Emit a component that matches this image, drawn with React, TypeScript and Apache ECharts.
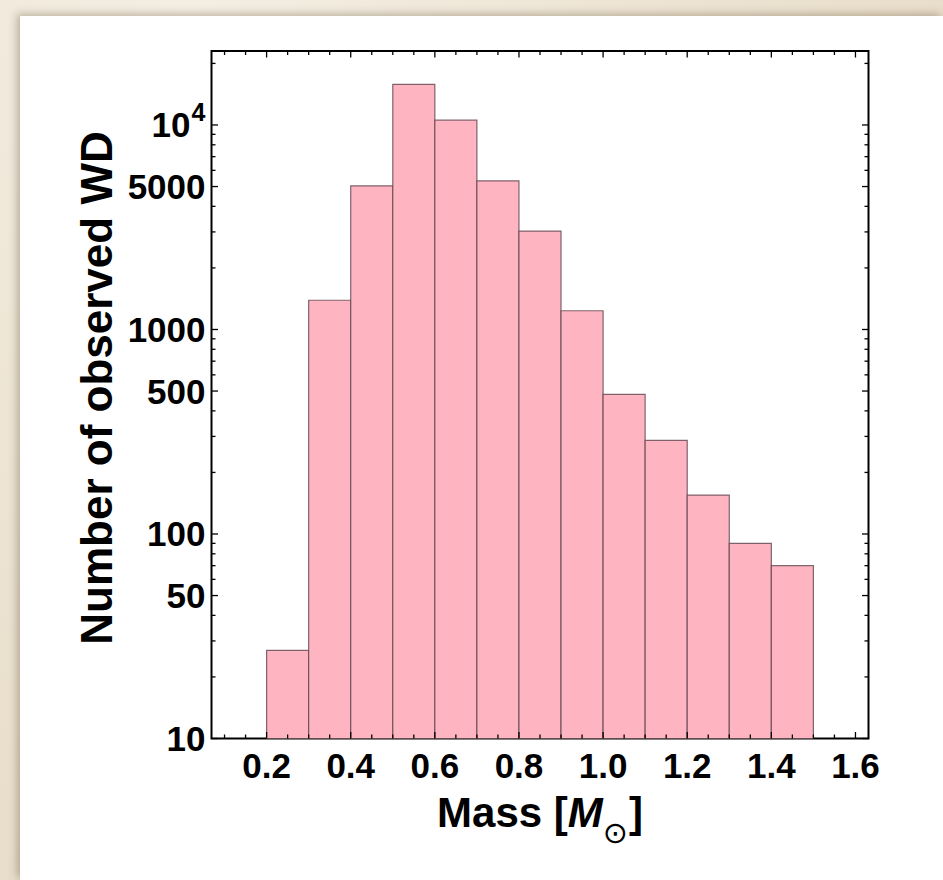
import React, { useEffect, useRef } from 'react';
import * as echarts from 'echarts';

// ---- data ----
const binStarts = [0.2, 0.3, 0.4, 0.5, 0.6, 0.7, 0.8, 0.9, 1.0, 1.1, 1.2, 1.3, 1.4];
const binEnds = [0.3, 0.4, 0.5, 0.6, 0.7, 0.8, 0.9, 1.0, 1.1, 1.2, 1.3, 1.4, 1.5];
const counts = [27, 1390, 5040, 15800, 10550, 5330, 3030, 1235, 482, 287, 155, 90, 70];

const xMajorTicks = [0.2, 0.4, 0.6, 0.8, 1.0, 1.2, 1.4, 1.6];
const xTickLabels = ['0.2', '0.4', '0.6', '0.8', '1.0', '1.2', '1.4', '1.6'];
const xMinorTicks = [0.1, 0.15, 0.25, 0.3, 0.35, 0.45, 0.5, 0.55, 0.65, 0.7, 0.75, 0.85, 0.9, 0.95,
  1.05, 1.1, 1.15, 1.25, 1.3, 1.35, 1.45, 1.5, 1.55];

const yMajorTicks = [10, 50, 100, 500, 1000, 5000, 10000];
const yTickLabels = ['10', '50', '100', '500', '1000', '5000', '10^4'];
const yMinorTicks = [20, 30, 40, 60, 70, 80, 90, 200, 300, 400, 600, 700, 800, 900,
  2000, 3000, 4000, 6000, 7000, 8000, 9000, 20000];

const X_MIN = 0.069;
const X_MAX = 1.631;
const Y_MIN = 10;
const Y_MAX = 23000;

const FONT = '"Liberation Sans", Arial, Helvetica, sans-serif';

export default function App() {
  const ref = useRef<HTMLDivElement>(null);

  useEffect(() => {
    if (!ref.current) return;
    const chart = echarts.init(ref.current, undefined, { renderer: 'svg' });

    const histData = binStarts.map((s, i) => [s, binEnds[i], counts[i]]);

    // tick items: [x, y, kind(0=x,1=y), major]
    const tickData: number[][] = [];
    xMajorTicks.forEach(v => tickData.push([v, Y_MIN, 0, 1]));
    xMinorTicks.forEach(v => tickData.push([v, Y_MIN, 0, 0]));
    yMajorTicks.forEach(v => tickData.push([X_MIN, v, 1, 1]));
    yMinorTicks.forEach(v => tickData.push([X_MIN, v, 1, 0]));

    // label items: [x, y, kind]
    const labelData: number[][] = [];
    const labelTexts: string[] = [];
    xMajorTicks.forEach((v, i) => { labelData.push([v, Y_MIN, 0]); labelTexts.push(xTickLabels[i]); });
    yMajorTicks.forEach((v, i) => { labelData.push([X_MIN, v, 1]); labelTexts.push(yTickLabels[i]); });

    const tickStyle = { stroke: '#000', lineWidth: 1.3 };

    const option: any = {
      animation: false,
      backgroundColor: 'transparent',
      grid: {
        left: 211.5, top: 51, width: 657, height: 687.5,
        show: true, borderColor: '#000', borderWidth: 2, backgroundColor: '#fff',
        containLabel: false,
      },
      xAxis: {
        type: 'value', min: X_MIN, max: X_MAX,
        axisLine: { show: false }, axisTick: { show: false },
        axisLabel: { show: false }, splitLine: { show: false },
      },
      yAxis: {
        type: 'log', logBase: 10, min: Y_MIN, max: Y_MAX,
        axisLine: { show: false }, axisTick: { show: false },
        axisLabel: { show: false }, splitLine: { show: false }, minorTick: { show: false },
      },
      series: [
        {
          type: 'custom',
          name: 'histogram',
          data: histData,
          encode: { x: [0, 1], y: 2 },
          z: 2,
          renderItem: (params: any, api: any) => {
            const p0 = api.coord([api.value(0), api.value(2)]);
            const p1 = api.coord([api.value(1), Y_MIN]);
            return {
              type: 'rect',
              shape: { x: p0[0], y: p0[1], width: p1[0] - p0[0], height: p1[1] - p0[1] },
              style: { fill: '#ffb4c2', stroke: 'rgba(95,70,78,0.8)', lineWidth: 1.2 },
            };
          },
        },
        {
          type: 'custom',
          name: 'ticks',
          data: tickData,
          encode: { x: 0, y: 1 },
          z: 5,
          silent: true,
          renderItem: (params: any, api: any) => {
            const kind = api.value(2);
            const len = api.value(3) ? 6.5 : 4;
            if (kind === 0) {
              const v = api.value(0);
              const b = api.coord([v, Y_MIN]);
              const t = api.coord([v, Y_MAX]);
              return {
                type: 'group', children: [
                  { type: 'line', shape: { x1: b[0], y1: b[1], x2: b[0], y2: b[1] - len }, style: tickStyle },
                  { type: 'line', shape: { x1: t[0], y1: t[1], x2: t[0], y2: t[1] + len }, style: tickStyle },
                ],
              };
            }
            const v = api.value(1);
            const l = api.coord([X_MIN, v]);
            const r = api.coord([X_MAX, v]);
            return {
              type: 'group', children: [
                { type: 'line', shape: { x1: l[0], y1: l[1], x2: l[0] + len, y2: l[1] }, style: tickStyle },
                { type: 'line', shape: { x1: r[0], y1: r[1], x2: r[0] - len, y2: r[1] }, style: tickStyle },
              ],
            };
          },
        },
        {
          type: 'custom',
          name: 'tickLabels',
          data: labelData,
          encode: { x: 0, y: 1 },
          z: 6,
          silent: true,
          renderItem: (params: any, api: any) => {
            const kind = api.value(2);
            const txt = labelTexts[params.dataIndex];
            const base = { fontSize: 35, fontWeight: 'bold', fontFamily: FONT, fill: '#000' };
            if (kind === 0) {
              const p = api.coord([api.value(0), Y_MIN]);
              return {
                type: 'text', x: p[0], y: p[1] + 27,
                style: { ...base, text: txt, align: 'center', verticalAlign: 'middle' },
              };
            }
            const p = api.coord([X_MIN, api.value(1)]);
            const xr = p[0] - 6;
            if (txt.indexOf('^') >= 0) {
              const [b, e] = txt.split('^');
              return {
                type: 'group', children: [
                  { type: 'text', x: xr - 15, y: p[1], style: { ...base, text: b, align: 'right', verticalAlign: 'middle' } },
                  { type: 'text', x: xr - 14, y: p[1] - 13, style: { ...base, fontSize: 25, text: e, align: 'left', verticalAlign: 'middle' } },
                ],
              };
            }
            return {
              type: 'text', x: xr, y: p[1],
              style: { ...base, text: txt, align: 'right', verticalAlign: 'middle' },
            };
          },
        },
      ],
      graphic: [
        {
          type: 'text', x: 540, y: 812, z: 10,
          style: {
            text: '{a|Mass [}{i|M}{s|⊙}{a|]}',
            align: 'center', verticalAlign: 'middle',
            textAlign: 'center', textVerticalAlign: 'middle',
            fill: '#000',
            rich: {
              a: { fontSize: 42, fontWeight: 'bold', fontFamily: FONT, lineHeight: 70, fill: '#000' },
              i: { fontSize: 42, fontWeight: 'bold', fontStyle: 'italic', fontFamily: FONT, lineHeight: 70, fill: '#000' },
              s: { fontSize: 30, fontWeight: 'normal', fontFamily: '"DejaVu Sans", sans-serif', lineHeight: 12, verticalAlign: 'bottom', fill: '#000', padding: [0, 1, 0, 0] },
            },
          },
        },
        {
          type: 'text', x: 96, y: 388, rotation: Math.PI / 2, z: 10,
          style: {
            text: 'Number of observed WD',
            fontSize: 44, fontWeight: 'bold', fontFamily: FONT, fill: '#000',
            align: 'center', verticalAlign: 'middle',
            textAlign: 'center', textVerticalAlign: 'middle',
          },
        },
      ],
    };

    chart.setOption(option);
    return () => { chart.dispose(); };
  }, []);

  return (
    <div style={{
      position: 'absolute', left: 0, top: 0, width: 943, height: 880, overflow: 'hidden',
      background: 'radial-gradient(ellipse at 20% 0%, #f4eee3 0%, #ebe1cf 55%, #e4d8c3 100%)',
    }}>
      <div style={{
        position: 'absolute', left: 20, top: 16, width: 923, height: 864, background: '#fff',
        boxShadow: '-3px -2px 8px rgba(90,70,40,0.35)',
      }} />
      <div ref={ref} style={{ position: 'absolute', left: 0, top: 0, width: 943, height: 880 }} />
    </div>
  );
}
